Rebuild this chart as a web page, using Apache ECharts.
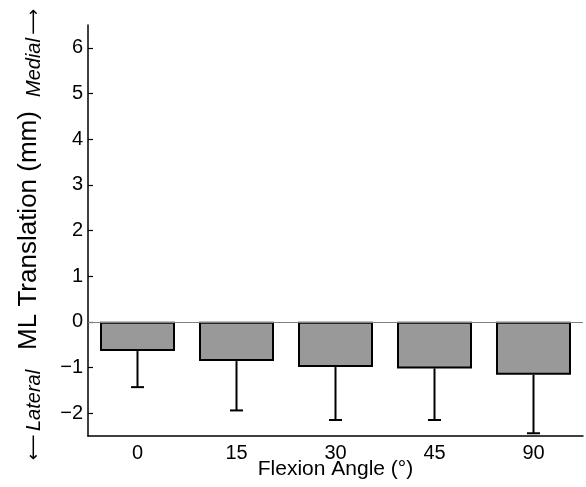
<!DOCTYPE html>
<html>
<head>
<meta charset="utf-8">
<script src="https://cdn.jsdelivr.net/npm/echarts@6/dist/echarts.min.js"></script>
<style>
  html, body { margin: 0; padding: 0; background: #fff; }
  #chart { width: 586px; height: 487px; }
</style>
</head>
<body>
<div id="chart"></div>
<script>
(function (echarts) {
  "use strict";

  // flexion angles (deg)
  var categories = ['0', '15', '30', '45', '90'];
  // mean ML translation (mm), negative = lateral
  var means = [-0.64, -0.86, -0.99, -1.02, -1.16];
  // one-sided (lower) error bar length
  var sds = [0.79, 1.08, 1.16, 1.13, 1.28];
  var yTicks = [-2, -1, 0, 1, 2, 3, 4, 5, 6];

  var FONT = 'Liberation Sans';

  var errData = means.map(function (m, i) {
    return [i, m, m - sds[i]];
  });

  // matlab style minus sign
  function fmt(v) {
    return v < 0 ? '\u2212' + Math.abs(v) : String(v);
  }

  function sideLabel(text, y) {
    return {
      type: 'text',
      x: 34, y: y,
      rotation: Math.PI / 2,
      style: {
        text: text,
        rich: {
          t: { fontFamily: FONT, fontStyle: 'italic', fontSize: 20, fill: '#000' },
          a: { fontFamily: 'DejaVu Sans', fontSize: 18, fill: '#000' }
        },
        align: 'center',
        verticalAlign: 'middle'
      }
    };
  }

  var chart = echarts.init(document.getElementById('chart'));

  chart.setOption({
    animation: false,
    backgroundColor: '#fff',
    grid: { left: 88, right: 3, top: 25, bottom: 51, outerBoundsMode: 'none', containLabel: false },
    xAxis: {
      type: 'category',
      data: categories,
      name: 'Flexion Angle (°)',
      nameLocation: 'middle',
      nameGap: 23,
      nameMoveOverlap: false,
      nameTextStyle: { fontFamily: FONT, fontSize: 21, color: '#000' },
      axisLine: { onZero: false, lineStyle: { color: '#000', width: 1.5 } },
      axisTick: { inside: true, length: 5, alignWithLabel: true, lineStyle: { color: '#000', width: 1.2 } },
      axisLabel: { fontFamily: FONT, fontSize: 20, color: '#000', margin: 7 },
      splitLine: { show: false }
    },
    yAxis: {
      type: 'value',
      min: -2.5,
      max: 6.5,
      name: 'ML Translation (mm)',
      nameLocation: 'middle',
      nameGap: 46,
      nameMoveOverlap: false,
      nameTextStyle: { fontFamily: FONT, fontSize: 26, color: '#000' },
      axisLine: { show: true, lineStyle: { color: '#000', width: 1.5 } },
      axisTick: { show: true, inside: true, length: 5, customValues: yTicks, lineStyle: { color: '#000', width: 1.2 } },
      axisLabel: { fontFamily: FONT, fontSize: 20, color: '#000', margin: 5, customValues: yTicks, formatter: fmt },
      splitLine: { show: false }
    },
    graphic: [
      sideLabel('{t|Medial} {a|\u27f6}', 53),
      sideLabel('{a|\u27f5} {t|Lateral}', 415)
    ],
    series: [
      {
        type: 'bar',
        data: means,
        barWidth: 75,
        itemStyle: { color: '#999999', borderColor: '#000', borderWidth: 2 },
        markLine: {
          silent: true,
          symbol: 'none',
          label: { show: false },
          lineStyle: { color: '#808080', width: 1, type: 'solid' },
          data: [{ yAxis: 0 }]
        },
        z: 2
      },
      {
        type: 'custom',
        data: errData,
        z: 3,
        renderItem: function (params, api) {
          var top = api.coord([api.value(0), api.value(1)]);
          var bot = api.coord([api.value(0), api.value(2)]);
          var half = 6.5;
          var style = { stroke: '#000', lineWidth: 2 };
          return {
            type: 'group',
            children: [
              { type: 'line', shape: { x1: top[0], y1: top[1], x2: bot[0], y2: bot[1] }, style: style },
              { type: 'line', shape: { x1: bot[0] - half, y1: bot[1], x2: bot[0] + half, y2: bot[1] }, style: style }
            ]
          };
        }
      }
    ]
  });
})(echarts);
</script>
</body>
</html>
